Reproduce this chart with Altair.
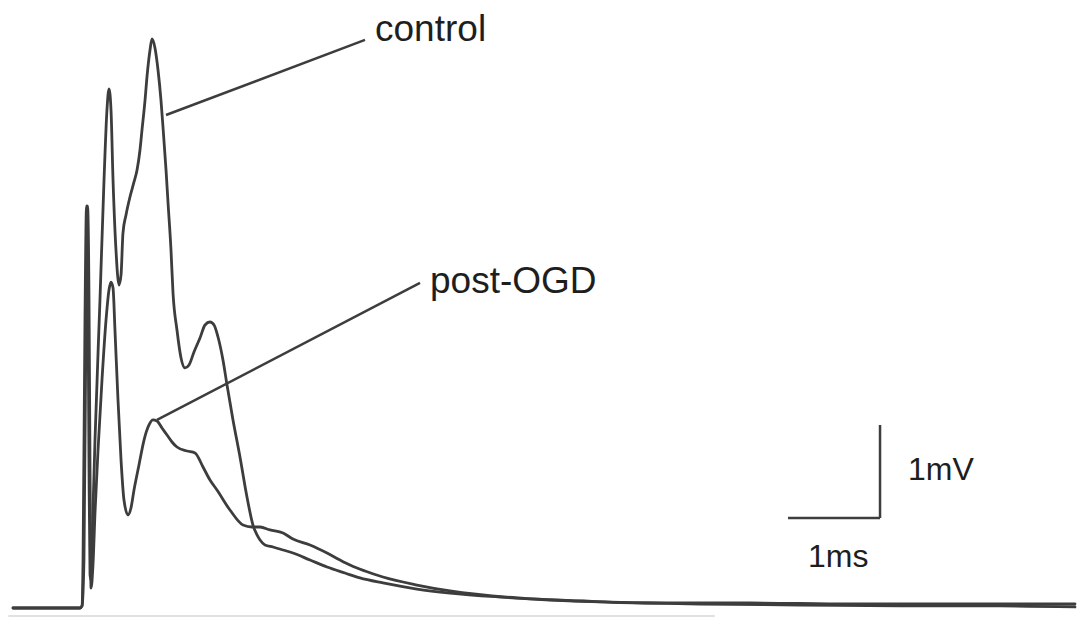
import altair as alt
import pandas as pd

# Field potential traces: time (ms) and amplitude (mV)
control_t = [-0.728, 0.0, 0.022, 0.033, 0.054, 0.071, 0.087, 0.098, 0.109, 0.120, 0.130,
             0.163, 0.217, 0.261, 0.293, 0.315, 0.337, 0.359, 0.391, 0.424, 0.446,
             0.467, 0.500, 0.543, 0.587, 0.620, 0.652, 0.674, 0.707, 0.728, 0.761,
             0.783, 0.815, 0.848, 0.880, 0.902, 0.935, 0.957, 0.989, 1.011, 1.054,
             1.098, 1.141, 1.185, 1.239, 1.304, 1.359, 1.413, 1.457, 1.500, 1.554,
             1.598, 1.663, 1.739, 1.815, 1.880, 1.924, 1.957, 2.011, 2.098, 2.207,
             2.315, 2.500, 2.685, 2.880, 3.043, 3.293, 3.663, 4.022, 4.565, 5.109,
             5.652, 6.196, 6.739, 7.826, 8.913, 10.000, 10.815]
control_mv = [0.0, 0.0, 0.022, 0.516, 3.097, 4.323, 3.312, 1.484, 0.355, 0.301, 0.656,
              1.806, 3.312, 4.602, 5.355, 5.581, 5.355, 4.602, 3.849, 3.473, 3.581,
              4.032, 4.226, 4.419, 4.581, 4.710, 4.925, 5.140, 5.462, 5.710, 6.000,
              6.118, 6.022, 5.785, 5.462, 5.172, 4.710, 4.355, 3.849, 3.387, 2.989,
              2.688, 2.581, 2.613, 2.753, 2.903, 3.043, 3.075, 3.043, 2.914, 2.667,
              2.398, 2.022, 1.624, 1.194, 0.892, 0.785, 0.731, 0.677, 0.656, 0.624,
              0.591, 0.516, 0.441, 0.376, 0.323, 0.269, 0.204, 0.161, 0.118, 0.086,
              0.065, 0.054, 0.043, 0.032, 0.022, 0.022, 0.011]

ogd_t = [-0.728, 0.0, 0.022, 0.043, 0.065, 0.082, 0.098, 0.109, 0.120, 0.141,
         0.163, 0.196, 0.239, 0.283, 0.315, 0.337, 0.359, 0.380, 0.413, 0.446,
         0.478, 0.522, 0.554, 0.587, 0.641, 0.696, 0.750, 0.793, 0.837, 0.891,
         0.946, 1.000, 1.054, 1.163, 1.250, 1.337, 1.413, 1.489, 1.630, 1.772,
         1.870, 1.957, 2.065, 2.207, 2.315, 2.500, 2.685, 2.826, 2.935, 3.098,
         3.293, 3.663, 4.022, 4.750, 5.467, 6.196, 7.283, 8.370, 9.457, 10.815]
ogd_mv = [0.0, 0.0, 0.022, 0.516, 3.097, 4.323, 3.312, 1.484, 0.215, 0.462,
          1.022, 1.699, 2.452, 3.097, 3.419, 3.505, 3.441, 2.989, 2.237, 1.591,
          1.161, 1.000, 1.075, 1.269, 1.538, 1.806, 1.968, 2.022, 2.011, 1.935,
          1.860, 1.785, 1.731, 1.688, 1.667, 1.516, 1.376, 1.269, 1.054, 0.892,
          0.871, 0.871, 0.839, 0.806, 0.742, 0.677, 0.591, 0.516, 0.462, 0.398,
          0.333, 0.247, 0.183, 0.108, 0.075, 0.054, 0.054, 0.043, 0.043, 0.043]

# Trace labels with leader lines (label anchor, leader start, leader end)
labels = ["control", "post-OGD"]
label_t = [3.207, 3.804]
label_mv = [6.097, 3.387]
leader_t0 = [0.935, 0.837]
leader_mv0 = [5.301, 2.022]
leader_t1 = [3.098, 3.696]
leader_mv1 = [6.108, 3.495]

# Calibration bars: 1 ms by 1 mV, corner at (8.696 ms, 0.968 mV)
bar_corner_t = 8.696
bar_corner_mv = 0.968
bar_ms = 1.0
bar_mv = 1.0

X_DOMAIN = [-0.8696, 10.9239]
Y_DOMAIN = [-0.0968, 6.5376]

ink = "#3d3d3d"
text_ink = "#1e1e1e"

rows = []
for name, ts, vs in [("control", control_t, control_mv), ("post-OGD", ogd_t, ogd_mv)]:
    for i, (t, v) in enumerate(zip(ts, vs)):
        rows.append({"trace": name, "i": i, "t": t, "mv": v})
traces = pd.DataFrame(rows)

xs = alt.Scale(domain=X_DOMAIN, nice=False, zero=False)
ys = alt.Scale(domain=Y_DOMAIN, nice=False, zero=False)

lines = alt.Chart(traces).mark_line(
    color=ink, strokeWidth=2.8, strokeJoin="round", strokeCap="round", interpolate="monotone"
).encode(
    x=alt.X("t:Q", scale=xs, axis=None),
    y=alt.Y("mv:Q", scale=ys, axis=None),
    detail="trace:N",
    order="i:Q",
)

leaders_df = pd.DataFrame({"t0": leader_t0, "v0": leader_mv0, "t1": leader_t1, "v1": leader_mv1})
leaders = alt.Chart(leaders_df).mark_rule(color=ink, strokeWidth=2.5).encode(
    x=alt.X("t0:Q", scale=xs, axis=None),
    y=alt.Y("v0:Q", scale=ys, axis=None),
    x2="t1:Q",
    y2="v1:Q",
)

label_df = pd.DataFrame({"label": labels, "t": label_t, "mv": label_mv})
label_text = alt.Chart(label_df).mark_text(
    align="left", baseline="alphabetic", font="Liberation Sans, Arial",
    fontSize=37, color=text_ink
).encode(
    x=alt.X("t:Q", scale=xs, axis=None),
    y=alt.Y("mv:Q", scale=ys, axis=None),
    text="label:N",
)

bars_df = pd.DataFrame({
    "t0": [bar_corner_t - bar_ms, bar_corner_t],
    "v0": [bar_corner_mv, bar_corner_mv],
    "t1": [bar_corner_t, bar_corner_t],
    "v1": [bar_corner_mv, bar_corner_mv + bar_mv],
})
bars = alt.Chart(bars_df).mark_rule(color=ink, strokeWidth=2.5).encode(
    x=alt.X("t0:Q", scale=xs, axis=None),
    y=alt.Y("v0:Q", scale=ys, axis=None),
    x2="t1:Q",
    y2="v1:Q",
)

bar_labels_df = pd.DataFrame({
    "label": ["1mV", "1ms"],
    "t": [9.0, 7.913],
    "mv": [1.376, 0.441],
})
bar_text = alt.Chart(bar_labels_df).mark_text(
    align="left", baseline="alphabetic", font="Liberation Sans, Arial",
    fontSize=32, color=text_ink
).encode(
    x=alt.X("t:Q", scale=xs, axis=None),
    y=alt.Y("mv:Q", scale=ys, axis=None),
    text="label:N",
)

# faint edge line along the bottom of the record
edge_df = pd.DataFrame({"t0": [-0.78], "t1": [6.9], "v": [-0.086]})
edge = alt.Chart(edge_df).mark_rule(color="#c4c4c4", strokeWidth=1.2).encode(
    x=alt.X("t0:Q", scale=xs, axis=None),
    x2="t1:Q",
    y=alt.Y("v:Q", scale=ys, axis=None),
)

chart = alt.layer(edge, lines, leaders, label_text, bars, bar_text).properties(
    width=1085, height=617, padding=0, autosize="none", background="white"
).configure_view(stroke=None)

chart.save("out.html", embed_options={"renderer": "svg", "actions": False})
